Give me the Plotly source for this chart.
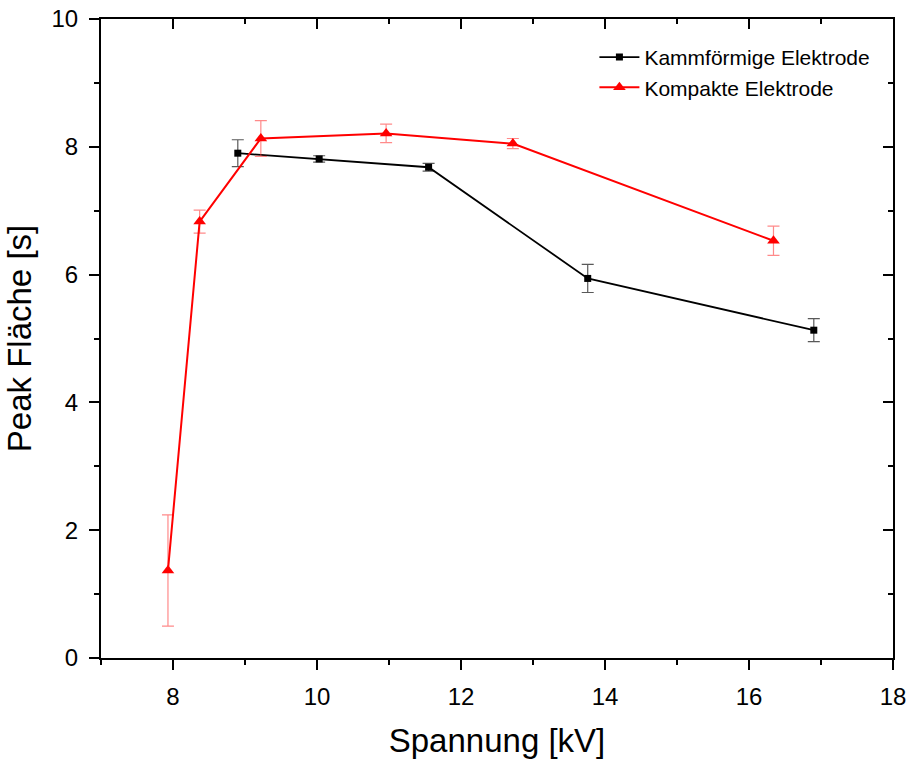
import plotly.graph_objects as go

# Kammförmige Elektrode
kamm_kv = [8.90, 10.03, 11.55, 13.76, 16.90]
kamm_area = [7.90, 7.81, 7.68, 5.94, 5.13]
kamm_err = [0.21, 0.05, 0.06, 0.22, 0.18]

# Kompakte Elektrode
komp_kv = [7.93, 8.37, 9.22, 10.96, 12.72, 16.34]
komp_area = [1.37, 6.83, 8.13, 8.21, 8.05, 6.53]
komp_err = [0.87, 0.18, 0.28, 0.145, 0.08, 0.23]

x_ticks = [8, 10, 12, 14, 16, 18]
y_ticks = [0, 2, 4, 6, 8, 10]

FONT = "Liberation Sans, Arial, sans-serif"

fig = go.Figure()

fig.add_trace(go.Scatter(
    x=kamm_kv, y=kamm_area, name="Kammförmige Elektrode",
    mode="lines+markers",
    line=dict(color="black", width=1.8),
    marker=dict(symbol="square", size=7, color="black"),
    error_y=dict(type="data", array=kamm_err, visible=True,
                 color="rgba(60,60,60,0.85)", thickness=1.2, width=6),
))

# second series lives on the mirrored top/right axes (same ranges)
fig.add_trace(go.Scatter(
    x=komp_kv, y=komp_area, name="Kompakte Elektrode",
    xaxis="x2", yaxis="y2",
    mode="lines+markers",
    line=dict(color="#ff0000", width=2),
    marker=dict(symbol="triangle-up", size=11, color="#ff0000"),
    error_y=dict(type="data", array=komp_err, visible=True,
                 color="rgba(255,60,60,0.6)", thickness=1.2, width=6),
))

axis_common = dict(
    showline=True, linecolor="black", linewidth=2,
    showgrid=False, zeroline=False, automargin=False,
    tickcolor="black", tickwidth=2, ticklen=10,
    tickfont=dict(family=FONT, size=24, color="black"),
)

fig.update_layout(
    width=911, height=760,
    margin=dict(l=101, r=18, t=19, b=102),
    paper_bgcolor="white", plot_bgcolor="white",
    font=dict(family=FONT, color="black"),
    showlegend=True,
    legend=dict(
        x=0.623, y=0.972, xanchor="left", yanchor="top",
        bgcolor="rgba(0,0,0,0)", borderwidth=0,
        font=dict(family=FONT, size=21, color="black"),
        tracegroupgap=0, itemwidth=40,
    ),
    xaxis=dict(
        **axis_common, range=[7, 18], tickvals=x_ticks, ticks="outside",
        minor=dict(dtick=1, tick0=7, ticks="outside", ticklen=5,
                   tickwidth=2, tickcolor="black"),
        title=dict(text="Spannung [kV]", font=dict(family=FONT, size=33),
                   standoff=20),
        ticklabelstandoff=6,
    ),
    yaxis=dict(
        **axis_common, range=[0, 10], tickvals=y_ticks, ticks="outside",
        minor=dict(dtick=1, tick0=0, ticks="outside", ticklen=5,
                   tickwidth=2, tickcolor="black"),
        title=dict(text="Peak Fläche [s]", font=dict(family=FONT, size=33),
                   standoff=10),
        ticklabelstandoff=6,
    ),
    xaxis2=dict(
        **axis_common, range=[7, 18], tickvals=x_ticks, ticks="inside",
        overlaying="x", side="top", anchor="y2", showticklabels=False,
        minor=dict(dtick=1, tick0=7, ticks="inside", ticklen=5,
                   tickwidth=2, tickcolor="black"),
    ),
    yaxis2=dict(
        **axis_common, range=[0, 10], tickvals=y_ticks, ticks="inside",
        overlaying="y", side="right", anchor="x2", showticklabels=False,
        minor=dict(dtick=1, tick0=0, ticks="inside", ticklen=5,
                   tickwidth=2, tickcolor="black"),
    ),
)

fig.write_html("out.html")
